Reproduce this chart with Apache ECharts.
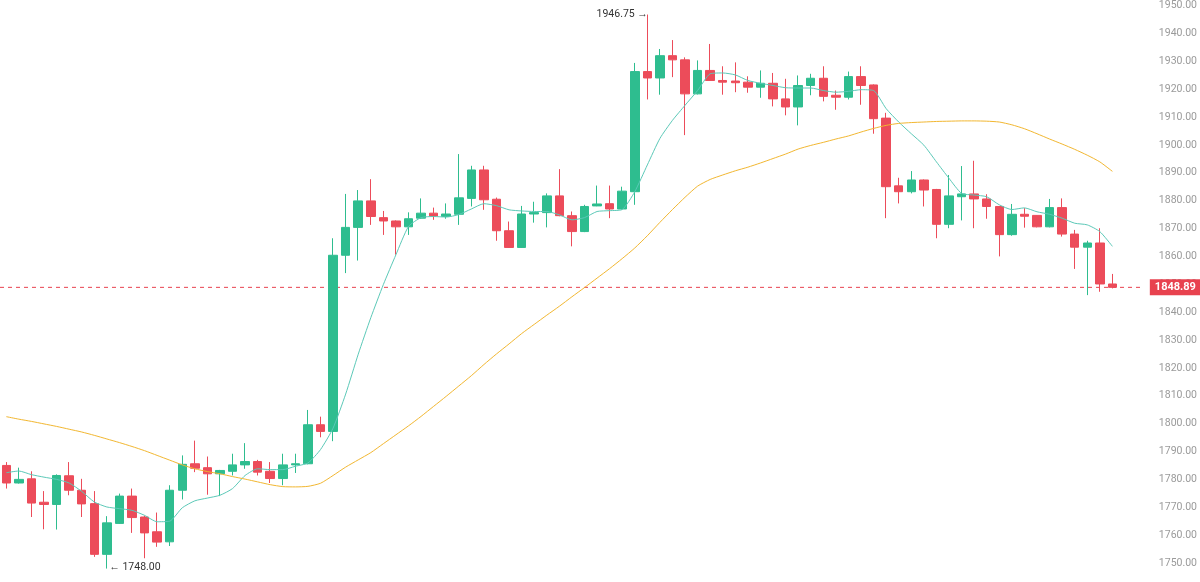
<!DOCTYPE html>
<html>
<head>
<meta charset="utf-8">
<script src="https://cdn.jsdelivr.net/npm/echarts@6/dist/echarts.min.js"></script>
<style>
  html, body { margin: 0; padding: 0; background: #fff; }
  #main { width: 1200px; height: 582px; }
</style>
</head>
<body>
<div id="main"></div>
<script>
// K线数据 (开/收/低/高)
const openPrices = [
  1785.0, 1778.7, 1780.2, 1771.8, 1771.0, 1781.3, 1776.1, 1771.3, 1753.1, 1764.2,
  1774.0, 1766.5, 1761.2, 1757.6, 1776.1, 1785.6, 1784.2, 1782.0, 1782.9, 1785.2,
  1786.4, 1782.9, 1780.3, 1785.2, 1785.6, 1799.6, 1797.2, 1860.4, 1870.4, 1879.9,
  1873.9, 1872.7, 1870.6, 1873.7, 1875.5, 1874.3, 1875.1, 1880.8, 1891.0, 1880.5,
  1869.2, 1863.2, 1875.2, 1875.7, 1881.7, 1874.6, 1868.9, 1878.1, 1878.9, 1877.0,
  1883.2, 1926.3, 1924.0, 1932.0, 1930.5, 1918.3, 1926.7, 1923.1, 1922.9, 1922.5,
  1920.7, 1922.1, 1916.5, 1913.6, 1921.3, 1923.9, 1917.8, 1917.1, 1924.5, 1921.5,
  1909.6, 1885.3, 1883.2, 1887.4, 1884.0, 1871.5, 1881.4, 1882.4, 1880.6, 1877.9,
  1867.8, 1875.1, 1874.7, 1870.6, 1877.5, 1868.0, 1863.3, 1864.8, 1850.1
];
const closePrices = [
  1778.7, 1780.0, 1771.5, 1771.0, 1781.4, 1776.1, 1771.2, 1753.1, 1764.4, 1774.0,
  1766.3, 1760.8, 1757.5, 1776.1, 1785.4, 1784.0, 1782.0, 1783.2, 1785.2, 1786.4,
  1782.6, 1780.3, 1785.2, 1785.6, 1799.6, 1797.2, 1860.4, 1870.4, 1879.9, 1874.3,
  1872.7, 1870.6, 1873.5, 1875.5, 1874.5, 1875.2, 1881.0, 1891.0, 1880.3, 1869.2,
  1863.2, 1875.2, 1875.7, 1881.7, 1874.6, 1868.9, 1877.9, 1878.8, 1877.0, 1883.4,
  1926.3, 1924.0, 1932.0, 1930.5, 1918.3, 1926.7, 1923.1, 1922.5, 1922.3, 1920.7,
  1922.1, 1916.5, 1913.6, 1921.3, 1923.9, 1917.4, 1917.1, 1924.5, 1921.3, 1909.4,
  1885.0, 1883.2, 1887.4, 1883.8, 1871.5, 1881.7, 1882.4, 1880.6, 1877.9, 1867.8,
  1875.1, 1874.4, 1870.6, 1877.5, 1868.0, 1863.3, 1864.8, 1850.1, 1848.89
];
const lowPrices = [
  1776.7, 1778.5, 1766.5, 1762.1, 1762.0, 1774.3, 1766.5, 1752.2, 1748.0, 1764.0,
  1760.8, 1751.7, 1755.8, 1756.1, 1772.8, 1782.6, 1774.5, 1774.0, 1781.4, 1783.8,
  1781.4, 1778.7, 1777.9, 1782.3, 1785.4, 1795.1, 1793.7, 1854.0, 1858.5, 1871.3,
  1867.7, 1860.6, 1867.7, 1873.5, 1873.1, 1873.5, 1871.3, 1877.9, 1876.7, 1865.6,
  1863.0, 1863.0, 1872.1, 1870.4, 1874.4, 1863.6, 1868.7, 1878.0, 1873.7, 1876.8,
  1878.5, 1916.3, 1918.0, 1924.3, 1903.5, 1918.1, 1923.0, 1918.0, 1918.9, 1918.7,
  1916.9, 1913.8, 1910.6, 1907.0, 1917.8, 1915.6, 1912.6, 1916.3, 1914.4, 1904.0,
  1873.7, 1879.0, 1882.6, 1877.9, 1866.5, 1870.1, 1872.9, 1870.1, 1873.5, 1860.0,
  1867.4, 1870.3, 1870.4, 1870.4, 1867.1, 1855.5, 1846.1, 1847.3, 1848.5
];
const highPrices = [
  1786.2, 1784.2, 1782.9, 1775.8, 1781.8, 1786.2, 1780.2, 1775.8, 1766.8, 1774.9,
  1776.7, 1767.0, 1768.1, 1777.9, 1788.6, 1793.9, 1788.2, 1783.4, 1789.2, 1793.0,
  1787.0, 1786.2, 1789.2, 1789.2, 1804.9, 1802.5, 1866.5, 1882.4, 1883.8, 1887.7,
  1876.3, 1872.9, 1875.8, 1880.8, 1877.5, 1879.0, 1896.7, 1892.5, 1892.5, 1881.1,
  1872.5, 1878.1, 1879.6, 1882.6, 1891.3, 1876.1, 1878.5, 1885.4, 1885.4, 1885.0,
  1929.4, 1946.75, 1934.4, 1937.6, 1931.4, 1930.3, 1936.2, 1928.2, 1929.6, 1924.6,
  1926.7, 1925.8, 1923.7, 1924.9, 1925.5, 1928.2, 1919.5, 1926.3, 1928.2, 1921.7,
  1911.5, 1888.2, 1890.6, 1887.6, 1884.2, 1889.2, 1892.4, 1894.3, 1882.3, 1878.0,
  1878.8, 1877.3, 1874.8, 1880.6, 1880.8, 1869.5, 1865.6, 1870.1, 1853.7
];
// 短均线 (青色)
const maShort = [
  1782.4, 1783.0, 1781.7, 1780.8, 1780.0, 1778.7, 1775.7, 1771.9, 1770.1, 1769.5,
  1768.9, 1767.1, 1764.8, 1765.0, 1769.8, 1772.3, 1773.3, 1774.3, 1776.7, 1781.4,
  1783.8, 1783.5, 1783.5, 1784.7, 1785.9, 1790.7, 1798.4, 1810.6, 1824.9, 1838.0,
  1849.9, 1860.6, 1870.7, 1873.9, 1874.3, 1874.1, 1875.0, 1877.0, 1878.9, 1878.2,
  1876.7, 1876.3, 1876.1, 1876.1, 1874.9, 1873.1, 1873.9, 1876.1, 1876.4, 1876.8,
  1883.2, 1892.8, 1902.3, 1908.8, 1914.2, 1919.5, 1925.5, 1925.8, 1925.1, 1923.1,
  1922.1, 1921.3, 1920.5, 1920.4, 1920.4, 1919.5, 1918.9, 1919.2, 1919.8, 1919.5,
  1913.0, 1908.2, 1904.0, 1899.9, 1893.9, 1888.0, 1882.6, 1882.0, 1881.4, 1878.5,
  1876.8, 1877.4, 1876.0, 1875.1, 1873.7, 1871.9, 1871.3, 1868.9, 1863.6
];
// 长均线 (黄色)
const maLong = [
  1802.5, 1801.6, 1800.8, 1799.9, 1799.0, 1798.0, 1797.0, 1795.8, 1794.5, 1793.2,
  1791.8, 1790.3, 1788.6, 1786.9, 1785.2, 1783.8, 1782.8, 1782.0, 1781.0, 1780.1,
  1779.1, 1778.1, 1777.4, 1777.3, 1777.5, 1778.6, 1781.4, 1784.4, 1787.0, 1789.6,
  1792.8, 1796.0, 1799.2, 1802.6, 1806.2, 1809.8, 1813.5, 1817.2, 1821.2, 1825.0,
  1828.6, 1832.3, 1835.6, 1838.9, 1842.1, 1845.5, 1848.8, 1852.2, 1855.6, 1859.2,
  1863.0, 1867.4, 1872.2, 1876.8, 1881.2, 1885.2, 1887.6, 1889.2, 1890.7, 1892.0,
  1893.5, 1895.1, 1896.7, 1898.5, 1899.8, 1900.9, 1902.1, 1903.2, 1904.6, 1905.9,
  1907.0, 1907.7, 1908.0, 1908.2, 1908.4, 1908.5, 1908.6, 1908.6, 1908.5, 1908.2,
  1907.2, 1905.8, 1904.0, 1902.1, 1900.3, 1898.4, 1896.3, 1893.9, 1890.5
];
const lastPrice = 1848.89;
const yMin = 1750, yMax = 1950, yStep = 10;

const upColor = '#2ebd8f';
const downColor = '#ec4c5a';
const tagColor = '#e8424f';

// 类目: 每根K线一个, 末尾留两格空白
let categories = [];
for (let i = 0; i < openPrices.length + 2; i++) {
    categories.push(String(i + 1));
}

let kData = [];
for (let i = 0; i < openPrices.length; i++) {
    kData.push([openPrices[i], closePrices[i], lowPrices[i], highPrices[i]]);
}

// 找最高和最低
let hiIdx = 0, loIdx = 0;
for (let i = 0; i < highPrices.length; i++) {
    if (highPrices[i] > highPrices[hiIdx]) hiIdx = i;
    if (lowPrices[i] < lowPrices[loIdx]) loIdx = i;
}
// 最低点低于坐标轴下限时, 标注贴着下限画
const loShown = Math.max(lowPrices[loIdx], yMin);

const myChart = echarts.init(document.getElementById('main'));
const option = {
    animation: false,
    backgroundColor: '#fff',
    grid: { left: 0, right: 55, top: 3, bottom: 19 },
    xAxis: [
        {
            type: 'category',
            data: categories,
            boundaryGap: true,
            axisLine: { show: false },
            axisTick: { show: false },
            axisLabel: { show: false },
            splitLine: { show: false }
        },
        {
            // 最新价虚线用, 横跨整个绘图区
            type: 'value',
            min: 0,
            max: 1,
            show: false
        }
    ],
    yAxis: {
        type: 'value',
        position: 'right',
        min: yMin,
        max: yMax,
        interval: yStep,
        axisLine: { show: false },
        axisTick: { show: false },
        splitLine: { show: false },
        axisLabel: {
            margin: 15,
            color: '#9a9a9a',
            fontSize: 10.5,
            fontFamily: 'Roboto',
            formatter: v => v.toFixed(2)
        }
    },
    series: [
        {
            type: 'candlestick',
            data: kData,
            barWidth: 9,
            itemStyle: {
                color: upColor,
                color0: downColor,
                borderColor: upColor,
                borderColor0: downColor,
                borderWidth: 1
            },
            markPoint: {
                symbol: 'circle',
                symbolSize: 1,
                itemStyle: { color: 'rgba(0,0,0,0)' },
                silent: true,
                data: [
                    {
                        coord: [categories[hiIdx], highPrices[hiIdx]],
                        label: {
                            show: true, position: 'left', distance: 1,
                            offset: [2, 0],
                            formatter: highPrices[hiIdx].toFixed(2) + ' \u2192',
                            color: '#333', fontSize: 10.5, fontFamily: 'Roboto'
                        }
                    },
                    {
                        coord: [categories[loIdx], loShown],
                        label: {
                            show: true, position: 'right', distance: 2,
                            offset: [0, 4],
                            formatter: '\u2190 ' + lowPrices[loIdx].toFixed(2),
                            color: '#333', fontSize: 10.5, fontFamily: 'Roboto'
                        }
                    }
                ]
            },
            z: 3
        },
        {
            type: 'line',
            data: maShort,
            showSymbol: false,
            smooth: 0.2,
            lineStyle: { color: '#5cc9b8', width: 1 },
            z: 4
        },
        {
            type: 'line',
            data: maLong,
            showSymbol: false,
            smooth: 0.2,
            lineStyle: { color: '#f2b731', width: 1 },
            z: 4
        },
        {
            // 最新价
            type: 'line',
            xAxisIndex: 1,
            data: [[0, lastPrice], [1, lastPrice]],
            showSymbol: false,
            silent: true,
            color: tagColor,
            lineStyle: { color: tagColor, type: [4, 4], width: 1 },
            endLabel: {
                show: true,
                distance: 6,
                formatter: lastPrice.toFixed(2),
                color: '#fff',
                backgroundColor: tagColor,
                padding: [3, 5, 2, 5],
                fontSize: 11,
                fontFamily: 'Roboto',
                fontWeight: 'bold'
            },
            z: 2
        }
    ]
};
myChart.setOption(option);
</script>
</body>
</html>
